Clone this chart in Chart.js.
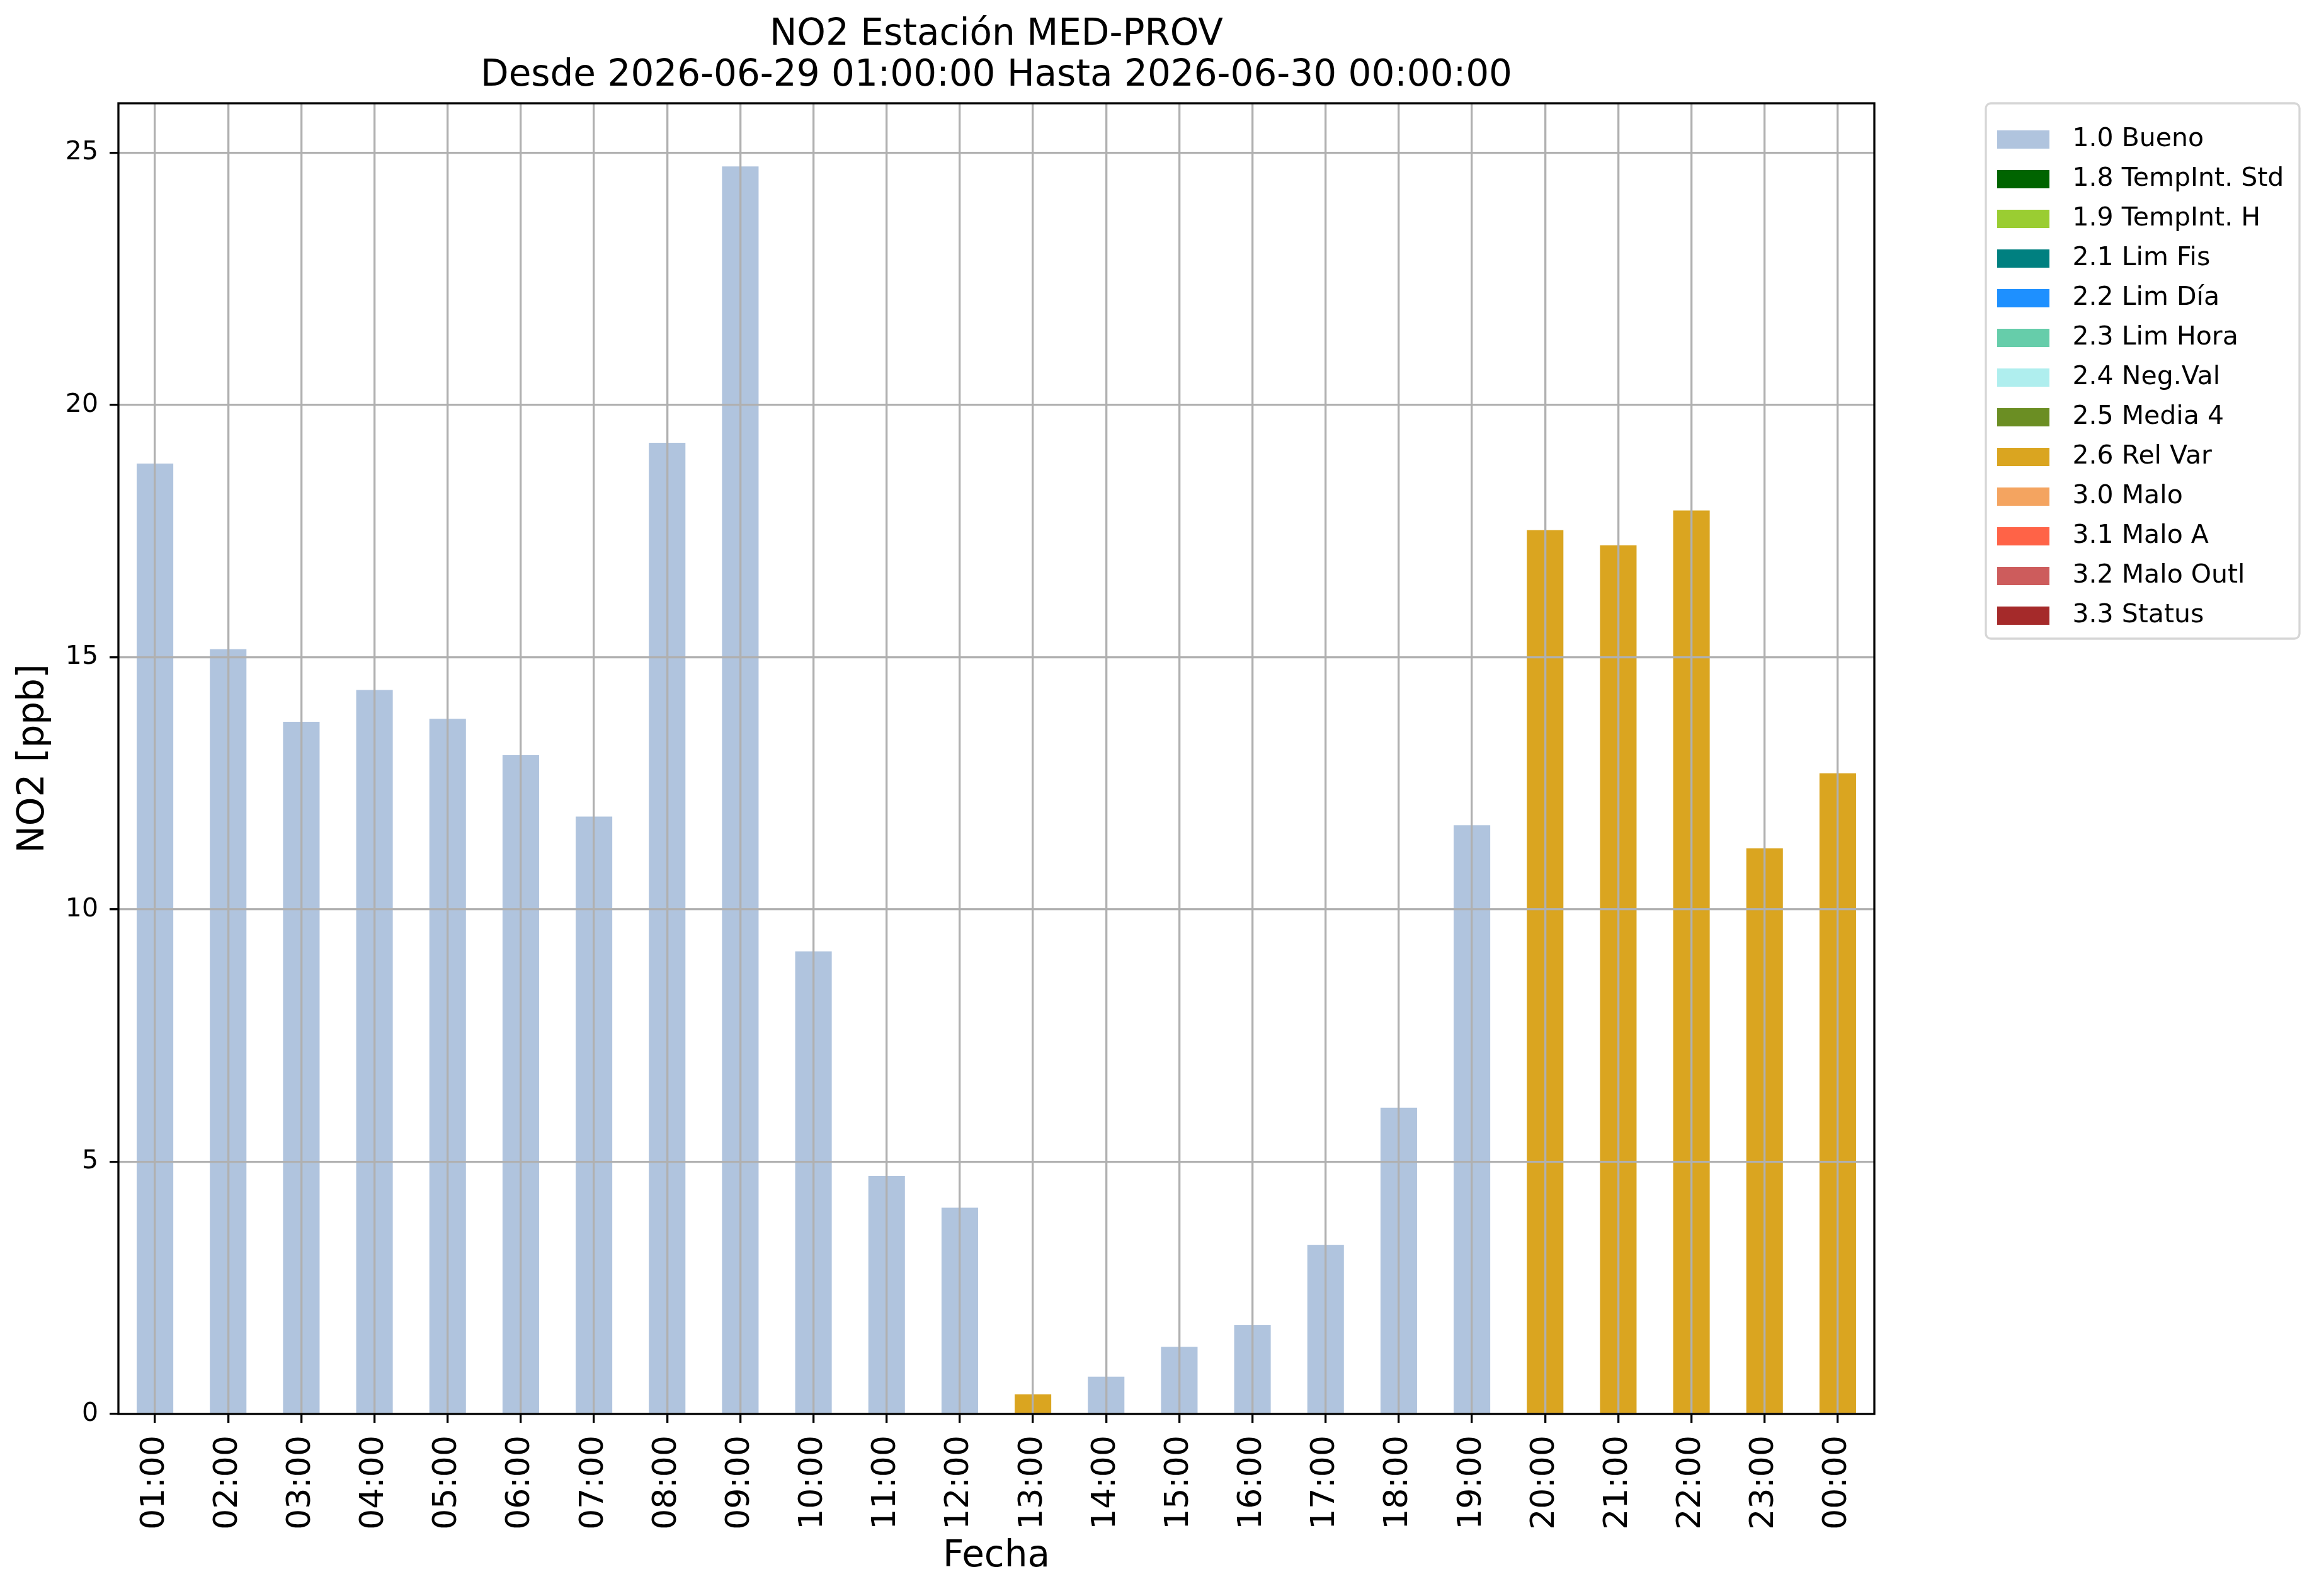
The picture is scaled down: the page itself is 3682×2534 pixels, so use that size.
<!DOCTYPE html>
<html>
<head>
<meta charset="utf-8">
<script src="https://cdn.jsdelivr.net/npm/chart.js@4.4.1/dist/chart.umd.min.js"></script>
<style>
html,body{margin:0;padding:0;background:#ffffff;}
#wrap{width:3682px;height:2534px;position:relative;}
</style>
</head>
<body>
<div id="wrap"><canvas id="c"></canvas></div>
<script>
// ---- data ----
const categories = ['01:00','02:00','03:00','04:00','05:00','06:00','07:00','08:00','09:00','10:00','11:00','12:00',
                    '13:00','14:00','15:00','16:00','17:00','18:00','19:00','20:00','21:00','22:00','23:00','00:00'];
const buenoValues = [18.84,15.16,13.72,14.35,13.78,13.06,11.84,19.25,24.73,9.17,4.72,4.09,
                     null,0.74,1.33,1.76,3.35,6.07,11.67,null,null,null,null,null];
const relVarValues = [null,null,null,null,null,null,null,null,null,null,null,null,
                      0.39,null,null,null,null,null,null,17.52,17.22,17.91,11.21,12.70];
const seriesNames = ['1.0 Bueno','1.8 TempInt. Std','1.9 TempInt. H','2.1 Lim Fis','2.2 Lim Día','2.3 Lim Hora',
                     '2.4 Neg.Val','2.5 Media 4','2.6 Rel Var','3.0 Malo','3.1 Malo A','3.2 Malo Outl','3.3 Status'];
const seriesColors = ['#B0C4DE','#006400','#9ACD32','#008080','#1E90FF','#66CDAA',
                      '#AFEEEE','#6B8E23','#DAA520','#F4A460','#FF6347','#CD5C5C','#A52A2A'];
const seriesData = {'1.0 Bueno': buenoValues, '2.6 Rel Var': relVarValues};
const yTicks = [0,5,10,15,20,25];
const yMax = 25.98;
const titleLines = ['NO2 Estación MED-PROV','Desde 2026-06-29 01:00:00 Hasta 2026-06-30 00:00:00'];
const xTitle = 'Fecha';
const yTitle = 'NO2 [ppb]';

// ---- layout helpers ----
const FONT = '"DejaVu Sans"';
Chart.defaults.font.family = FONT;
Chart.defaults.color = '#000000';

const LEG_FONT = 41, LEG_PATCHW = 83, LEG_SLOTW = 99, LEG_BOXH = 29, LEG_PAD = 22;
const mctx = document.createElement('canvas').getContext('2d');
mctx.font = LEG_FONT + 'px ' + FONT;
const maxTextW = Math.max(...seriesNames.map(n => mctx.measureText(n).width));
const legendW = LEG_PAD + LEG_SLOTW + LEG_FONT / 2 + maxTextW + 10;
const legendLeft = 3149;
const padRight = 3682 - legendLeft - legendW;

// legend patch images (patch followed by empty gap, as in the reference legend)
function patchImage(color) {
  const cv = document.createElement('canvas');
  cv.width = LEG_SLOTW; cv.height = LEG_BOXH;
  const c = cv.getContext('2d');
  c.fillStyle = color;
  c.fillRect(0, 0, LEG_PATCHW, LEG_BOXH);
  return cv;
}
const patchImages = seriesColors.map(patchImage);

const gridCommon = {
  color: '#b0b0b0', lineWidth: 3.3, z: 1,
  drawTicks: true, tickLength: 14, tickColor: '#000000', tickWidth: 3.3
};

const framePlugin = {
  id: 'frame',
  afterDraw(chart) {
    const {ctx, chartArea: a} = chart;
    ctx.save();
    ctx.strokeStyle = '#000000';
    ctx.lineWidth = 3.3;
    ctx.strokeRect(a.left, a.top, a.right - a.left, a.bottom - a.top);
    const lg = chart.legend;
    if (lg) {
      ctx.strokeStyle = '#d6d6d6';
      ctx.lineWidth = 3.3;
      ctx.beginPath();
      ctx.roundRect(lg.left + 4, a.top, 498, 850, 8);
      ctx.stroke();
    }
    ctx.restore();
  }
};

const datasets = seriesNames.map((name, i) => ({
  label: name,
  data: seriesData[name] || [],
  backgroundColor: seriesColors[i],
  borderWidth: 0,
  barPercentage: 0.5,
  categoryPercentage: 1.0
}));

new Chart(document.getElementById('c'), {
  type: 'bar',
  data: { labels: categories, datasets: datasets },
  plugins: [framePlugin],
  options: {
    responsive: true,
    maintainAspectRatio: false,
    animation: false,
    devicePixelRatio: 1,
    layout: { padding: { left: 0, top: 0, bottom: 0, right: padRight } },
    plugins: {
      title: {
        display: true, text: titleLines, fullSize: false, color: '#000000',
        font: { size: 58, weight: 'normal', lineHeight: 65 / 58 },
        padding: { top: 23.5, bottom: 10.5 }
      },
      legend: {
        position: 'right', align: 'start', fullSize: false,
        labels: {
          usePointStyle: true, pointStyleWidth: LEG_SLOTW,
          boxWidth: LEG_SLOTW, boxHeight: LEG_BOXH, padding: LEG_PAD, color: '#000000',
          font: { size: LEG_FONT },
          generateLabels(chart) {
            const items = Chart.defaults.plugins.legend.labels.generateLabels(chart);
            items.forEach((it, i) => { it.pointStyle = patchImages[it.datasetIndex]; it.lineWidth = 0; });
            return items;
          }
        },
        title: { display: true, text: '', font: { size: 1, lineHeight: 1 }, padding: { top: 13.5, bottom: 0 } }
      },
      tooltip: { enabled: false }
    },
    scales: {
      x: {
        type: 'category', stacked: true, offset: true,
        grid: Object.assign({ offset: false }, gridCommon),
        border: { display: false },
        ticks: { autoSkip: false, minRotation: 90, maxRotation: 90, padding: 20, color: '#000000', font: { size: 52 } },
        title: { display: true, text: xTitle, color: '#000000', font: { size: 58, lineHeight: 1.2 }, padding: { top: 0, bottom: 27.2 } },
        afterFit(s) { s.height = 289; }
      },
      y: {
        type: 'linear', position: 'left', stacked: true, min: 0, max: yMax,
        grid: Object.assign({}, gridCommon),
        border: { display: false },
        ticks: { padding: 18, color: '#000000', font: { size: 41 } },
        afterBuildTicks(s) { s.ticks = yTicks.map(v => ({ value: v })); },
        title: { display: true, text: yTitle, color: '#000000', font: { size: 58, lineHeight: 1.2 }, padding: { top: 19.2, bottom: 0 } },
        afterFit(s) { s.width = 188; }
      },
      y2: {
        type: 'linear', position: 'right', display: true,
        grid: { display: false }, border: { display: false },
        ticks: { display: false },
        afterFit(s) { s.width = 173; }
      }
    }
  }
});
</script>
</body>
</html>
